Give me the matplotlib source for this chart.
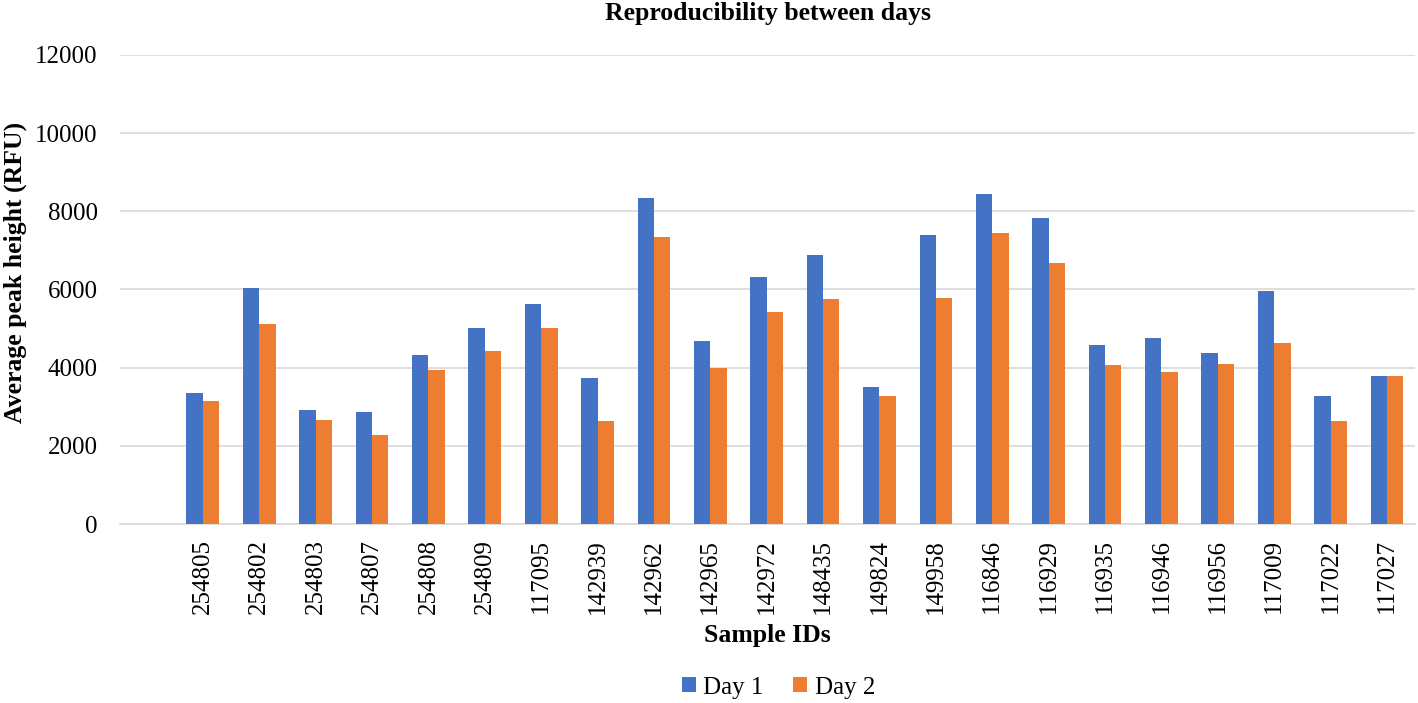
import numpy as np
import matplotlib.pyplot as plt

samples = ["254805", "254802", "254803", "254807", "254808", "254809", "117095", "142939",
           "142962", "142965", "142972", "148435", "149824", "149958", "116846", "116929",
           "116935", "116946", "116956", "117009", "117022", "117027"]
day1 = [3350, 6040, 2920, 2870, 4320, 5010, 5630, 3740, 8340, 4680, 6320, 6880, 3500,
        7400, 8440, 7830, 4580, 4760, 4370, 5960, 3280, 3790]
day2 = [3150, 5120, 2660, 2280, 3950, 4430, 5010, 2640, 7340, 3990, 5420, 5760, 3280,
        5790, 7440, 6680, 4060, 3890, 4090, 4630, 2640, 3790]

plt.rcParams['font.family'] = ['Liberation Serif', 'DejaVu Serif']

fig = plt.figure(figsize=(14.18, 7.03), dpi=100)
ax = fig.add_axes([0.0846, 0.2546, 0.9134, 0.6672])

x = np.arange(len(samples))
w = 0.29
ax.bar(x - w / 2, day1, w, color="#4472C4", label="Day 1", zorder=3)
ax.bar(x + w / 2, day2, w, color="#ED7D31", label="Day 2", zorder=3)

ax.set_xlim(-1.47, len(samples) - 0.5)
ax.set_ylim(0, 12000)
ax.set_yticks(np.arange(0, 12001, 2000))
ax.set_xticks(x)
ax.set_xticklabels(samples, rotation=90, fontsize=18)
ax.tick_params(axis='y', labelsize=18, length=0, pad=16)
ax.tick_params(axis='x', length=0, pad=11)
ax.yaxis.grid(True, color="#D9D9D9", linewidth=1.2, zorder=0)
for s in ["top", "right", "left"]:
    ax.spines[s].set_visible(False)
ax.spines["bottom"].set_color("#D9D9D9")
ax.spines["bottom"].set_linewidth(1.2)

ax.set_title("Reproducibility between days", fontsize=18.5, fontweight="bold", pad=25)
ax.set_ylabel("Average peak height (RFU)", fontsize=18.5, fontweight="bold")
ax.yaxis.set_label_coords(-0.0715, 0.537)
ax.set_xlabel("Sample IDs", fontsize=18.5, fontweight="bold", labelpad=7)

fig.legend(loc="center", bbox_to_anchor=(0.549, 0.022), ncol=2, frameon=False,
           fontsize=18, handlelength=0.55, handleheight=0.55, columnspacing=1.2,
           handletextpad=0.3)

fig.savefig("out.png", dpi=100)
